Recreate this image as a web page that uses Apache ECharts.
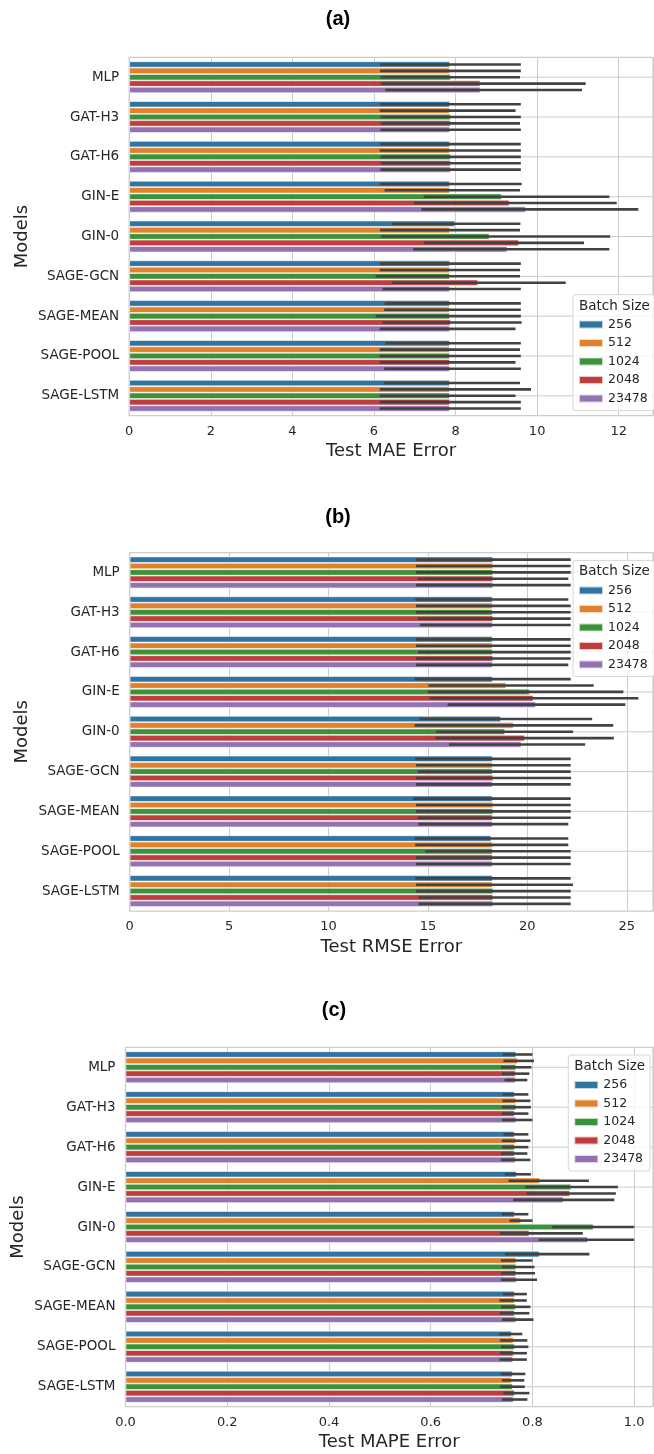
<!DOCTYPE html>
<html>
<head>
<meta charset="utf-8">
<script src="https://cdn.jsdelivr.net/npm/echarts@6/dist/echarts.min.js"></script>
<style>
  html, body { margin: 0; padding: 0; background: #fff; }
  #chart { width: 654px; height: 1454px; }
</style>
</head>
<body>
<div id="chart"></div>
<script>
const models = ["MLP", "GAT-H3", "GAT-H6", "GIN-E", "GIN-0", "SAGE-GCN", "SAGE-MEAN", "SAGE-POOL", "SAGE-LSTM"];
const batchSizes = ["256", "512", "1024", "2048", "23478"];
const colors = ["#3274a1", "#e1812c", "#3a923a", "#c03d3e", "#9372b2"];

// one row per batch size, one value per model
const maeMean = [
  [7.86, 7.86, 7.86, 7.86, 7.99, 7.86, 7.86, 7.86, 7.86],
  [7.86, 7.86, 7.86, 7.86, 7.86, 7.86, 7.86, 7.86, 7.86],
  [7.88, 7.88, 7.88, 9.13, 8.83, 7.86, 7.86, 7.86, 7.86],
  [8.61, 7.88, 7.88, 9.32, 9.55, 8.55, 7.88, 7.86, 7.86],
  [8.61, 7.86, 7.88, 9.72, 9.27, 7.86, 7.86, 7.86, 7.86],
];
const maeLow = [
  [6.15, 6.15, 6.16, 6.14, 6.44, 6.14, 6.26, 6.28, 6.24],
  [6.15, 6.14, 6.14, 6.26, 6.15, 6.14, 6.25, 6.14, 6.14],
  [6.16, 6.16, 6.16, 7.22, 6.18, 6.04, 6.04, 6.14, 6.14],
  [6.17, 6.17, 6.17, 6.98, 7.22, 6.44, 6.21, 6.14, 6.14],
  [6.28, 6.16, 6.16, 7.16, 6.96, 6.21, 6.14, 6.25, 6.14],
];
const maeHigh = [
  [9.60, 9.60, 9.60, 9.62, 9.59, 9.60, 9.60, 9.60, 9.58],
  [9.60, 9.47, 9.60, 9.58, 9.58, 9.58, 9.60, 9.58, 9.85],
  [9.58, 9.60, 9.60, 11.77, 11.79, 9.58, 9.60, 9.60, 9.47],
  [11.19, 9.58, 9.60, 11.95, 11.15, 10.70, 9.62, 9.47, 9.60],
  [11.10, 9.60, 9.60, 12.48, 11.77, 9.60, 9.47, 9.60, 9.60],
];

const rmseMean = [
  [18.28, 18.25, 18.25, 18.25, 18.67, 18.25, 18.25, 18.19, 18.25],
  [18.28, 18.25, 18.25, 18.93, 19.31, 18.25, 18.28, 18.25, 18.25],
  [18.28, 18.25, 18.25, 20.11, 18.88, 18.25, 18.28, 18.25, 18.28],
  [18.28, 18.28, 18.28, 20.31, 19.87, 18.28, 18.25, 18.25, 18.28],
  [18.28, 18.25, 18.25, 20.42, 19.70, 18.25, 18.25, 18.25, 18.28],
];
const rmseLow = [
  [14.40, 14.36, 14.40, 14.33, 14.57, 14.36, 14.26, 14.33, 14.36],
  [14.40, 14.40, 14.40, 15.03, 14.33, 14.40, 14.40, 14.36, 14.40],
  [14.40, 14.40, 14.50, 15.00, 15.42, 14.48, 14.40, 14.86, 14.40],
  [14.50, 14.50, 14.40, 15.08, 15.37, 14.40, 14.50, 14.40, 14.53],
  [14.40, 14.60, 14.40, 15.99, 16.06, 14.40, 14.52, 14.40, 14.53],
];
const rmseHigh = [
  [22.18, 22.06, 22.18, 22.18, 23.26, 22.18, 22.18, 22.06, 22.18],
  [22.18, 22.18, 22.18, 23.34, 24.32, 22.18, 22.18, 22.06, 22.30],
  [22.18, 22.18, 22.18, 24.83, 22.30, 22.18, 22.18, 22.18, 22.18],
  [22.06, 22.18, 22.18, 25.58, 24.35, 22.20, 22.18, 22.18, 22.18],
  [22.18, 22.18, 22.06, 24.93, 22.91, 22.18, 22.06, 22.18, 22.18],
];

const mapeMean = [
  [0.768, 0.765, 0.765, 0.769, 0.765, 0.814, 0.765, 0.759, 0.761],
  [0.771, 0.768, 0.768, 0.815, 0.777, 0.768, 0.765, 0.763, 0.759],
  [0.768, 0.768, 0.765, 0.876, 0.920, 0.768, 0.767, 0.765, 0.761],
  [0.767, 0.765, 0.765, 0.874, 0.794, 0.768, 0.765, 0.763, 0.765],
  [0.767, 0.768, 0.767, 0.861, 0.909, 0.769, 0.768, 0.762, 0.763],
];
const mapeLow = [
  [0.742, 0.741, 0.743, 0.746, 0.740, 0.746, 0.742, 0.735, 0.738],
  [0.743, 0.741, 0.740, 0.753, 0.755, 0.738, 0.735, 0.736, 0.740],
  [0.738, 0.740, 0.740, 0.786, 0.839, 0.740, 0.738, 0.738, 0.736],
  [0.740, 0.740, 0.738, 0.788, 0.736, 0.738, 0.736, 0.736, 0.743],
  [0.745, 0.740, 0.738, 0.762, 0.812, 0.738, 0.740, 0.735, 0.740],
];
const mapeHigh = [
  [0.800, 0.792, 0.792, 0.797, 0.792, 0.912, 0.789, 0.780, 0.786],
  [0.803, 0.796, 0.796, 0.911, 0.800, 0.800, 0.789, 0.790, 0.784],
  [0.798, 0.797, 0.792, 0.968, 1.000, 0.804, 0.796, 0.792, 0.785],
  [0.794, 0.792, 0.790, 0.964, 0.899, 0.805, 0.794, 0.789, 0.794],
  [0.790, 0.800, 0.796, 0.961, 1.000, 0.809, 0.802, 0.789, 0.790],
];

const FONT = "DejaVu Sans";
const TEXT = "#262626";
const GRID_LINE = "#cccccc";

const panels = [
  { title: "(a)", titleX: 338, titleY: 19, name: "Test MAE Error",
    mean: maeMean, low: maeLow, high: maeHigh,
    grid: { left: 129.2, top: 57.3, width: 523.8, height: 358.4 },
    max: 12.84, interval: 2, digits: 0, legend: { left: 573, top: 294.6 } },
  { title: "(b)", titleX: 338, titleY: 517, name: "Test RMSE Error",
    mean: rmseMean, low: rmseLow, high: rmseHigh,
    grid: { left: 129.7, top: 552.5, width: 523.3, height: 358.5 },
    max: 26.32, interval: 5, digits: 0, legend: { left: 573, top: 560.4 } },
  { title: "(c)", titleX: 334, titleY: 1010, name: "Test MAPE Error",
    mean: mapeMean, low: mapeLow, high: mapeHigh,
    grid: { left: 125.5, top: 1047.3, width: 527.5, height: 359.4 },
    max: 1.037, interval: 0.2, digits: 1, legend: { left: 568.3, top: 1055 } },
];

// horizontal grid lines through each category centre (seaborn whitegrid)
function renderCategoryLine(params, api) {
  const y = api.coord([0, api.value(1)])[1];
  const cs = params.coordSys;
  return {
    type: "line",
    shape: { x1: cs.x, y1: y, x2: cs.x + cs.width, y2: y },
    style: { stroke: GRID_LINE, lineWidth: 1 },
  };
}

// confidence interval line for one bar of a group
function renderCI(params, api) {
  const cat = api.value(0);
  const j = api.value(3);
  const band = api.size([0, 1])[1];
  const barW = (band * 0.8) / batchSizes.length;
  const y = api.coord([0, cat])[1] - band * 0.4 + (j + 0.5) * barW;
  const x1 = api.coord([api.value(1), cat])[0];
  const x2 = api.coord([api.value(2), cat])[0];
  return {
    type: "line",
    shape: { x1: x1, y1: y, x2: x2, y2: y },
    style: { stroke: "#424242", lineWidth: 2.6 },
  };
}

const grids = [], xAxes = [], yAxes = [], legends = [], titles = [], graphics = [], series = [];

panels.forEach((p, k) => {
  grids.push(Object.assign({ show: true, borderColor: GRID_LINE, borderWidth: 1.25, backgroundColor: "#fff" }, p.grid));

  xAxes.push({
    type: "value", gridIndex: k, min: 0, max: p.max, interval: p.interval,
    name: p.name, nameLocation: "middle", nameGap: 27, nameMoveOverlap: false,
    nameTextStyle: { fontFamily: FONT, fontSize: 18, color: TEXT },
    axisLine: { show: false }, axisTick: { show: false },
    axisLabel: {
      fontFamily: FONT, fontSize: 13, color: TEXT, margin: 9, showMaxLabel: false,
      formatter: (v) => v.toFixed(p.digits),
    },
    splitLine: { show: true, lineStyle: { color: GRID_LINE, width: 1 } },
  });

  yAxes.push({
    type: "category", gridIndex: k, data: models, inverse: true,
    name: "Models", nameLocation: "middle", nameGap: 98, nameMoveOverlap: false,
    nameTextStyle: { fontFamily: FONT, fontSize: 18, color: TEXT },
    axisLine: { show: false }, axisTick: { show: false },
    axisLabel: { fontFamily: FONT, fontSize: 13.5, color: TEXT, margin: 10 },
    splitLine: { show: false },
  });

  legends.push({
    data: batchSizes, orient: "vertical", left: p.legend.left, top: p.legend.top,
    icon: "rect", itemWidth: 24, itemHeight: 8, itemGap: 4.5, itemTextGap: 10,
    padding: [23, 7, 5, 5],
    backgroundColor: "rgba(255,255,255,0.8)", borderColor: "#d6d6d6", borderWidth: 1, borderRadius: 3,
    textStyle: { fontFamily: FONT, fontSize: 12.5, color: TEXT, lineHeight: 14 },
    selectedMode: false,
  });

  titles.push({
    text: "Batch Size", left: p.legend.left + 6, top: p.legend.top + 3.5, padding: 0,
    textStyle: { fontFamily: FONT, fontSize: 13.5, fontWeight: "normal", color: TEXT, lineHeight: 16 },
  });

  graphics.push({
    type: "text", x: p.titleX, y: p.titleY, z: 100,
    style: { text: p.title, textAlign: "center", textVerticalAlign: "middle",
      font: "bold 20px 'Liberation Sans', Arial, sans-serif", fill: "#000" },
  });

  series.push({
    type: "custom", name: "rowgrid" + k, xAxisIndex: k, yAxisIndex: k, silent: true, z: 1,
    renderItem: renderCategoryLine, encode: { x: 0, y: 1 },
    data: models.map((m, i) => [0, i]),
  });

  batchSizes.forEach((b, j) => {
    series.push({
      type: "bar", name: b, xAxisIndex: k, yAxisIndex: k, z: 2,
      barGap: 0, barCategoryGap: "20%",
      itemStyle: { color: colors[j], borderColor: "rgba(255,255,255,0.7)", borderWidth: 0.8 },
      data: p.mean[j],
      silent: true,
    });
  });

  const ci = [];
  batchSizes.forEach((b, j) => {
    models.forEach((m, i) => ci.push([i, p.low[j][i], p.high[j][i], j]));
  });
  series.push({
    type: "custom", name: "ci" + k, xAxisIndex: k, yAxisIndex: k, silent: true, z: 3,
    renderItem: renderCI, encode: { x: [1, 2], y: 0 },
    data: ci,
  });
});

const chart = echarts.init(document.getElementById("chart"));
chart.setOption({
  animation: false,
  backgroundColor: "#fff",
  textStyle: { fontFamily: FONT },
  title: titles,
  legend: legends,
  grid: grids,
  xAxis: xAxes,
  yAxis: yAxes,
  graphic: graphics,
  series: series,
});
</script>
</body>
</html>
